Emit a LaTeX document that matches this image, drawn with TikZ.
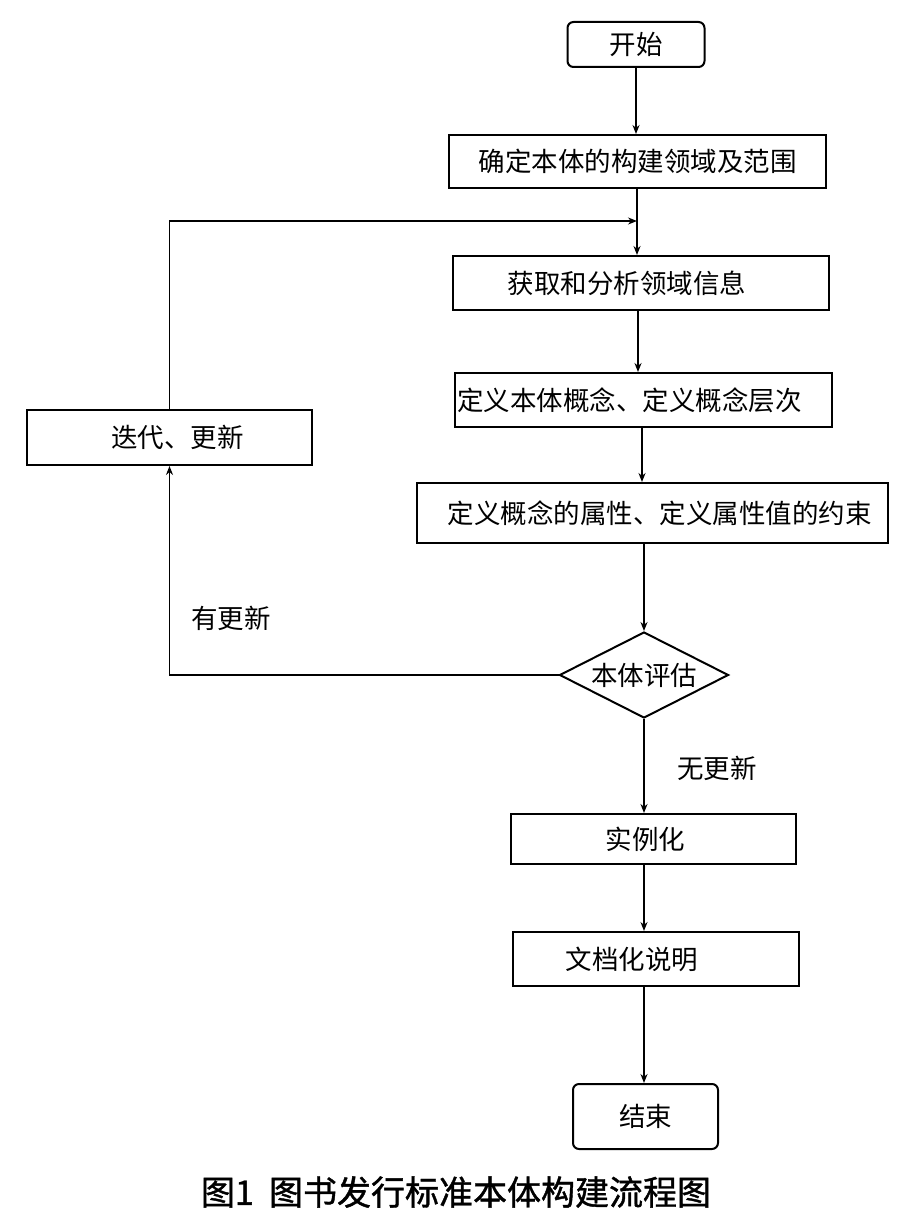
\documentclass[tikz,border=0pt]{standalone}
\usepackage{fontspec}
\newfontfamily\cjk{Noto Sans CJK SC}
\newfontfamily\capfont[FakeBold=1.2]{Noto Sans CJK SC}
\usetikzlibrary{arrows.meta,shapes.geometric}
\newcommand{\shl}[1]{\hspace*{#1pt}}
\begin{document}
\begin{tikzpicture}[x=1pt,y=-1pt,
  every node/.style={font=\cjk\fontsize{26.5}{30}\selectfont, inner sep=0pt},
  procbox/.style={draw, line width=2pt, rectangle},
  termbox/.style={draw, line width=2pt, rectangle, rounded corners=6pt},
  decbox/.style={draw, line width=2pt, diamond, aspect=2},
  arr/.style={line width=1.6pt, -{Stealth[length=9pt,width=7pt]}},
  lbl/.style={font=\cjk\fontsize{26.5}{30}\selectfont}
]
\useasboundingbox (0,0) rectangle (912,1220);

\node[termbox, minimum width=137pt, minimum height=45pt] (start) at (636,44.5) {开始};
\node[procbox, minimum width=377pt, minimum height=53pt] (b2) at (637.5,161.5) {确定本体的构建领域及范围};
\node[procbox, minimum width=376pt, minimum height=54pt] (b3) at (641,283) {获取和分析领域信息\shl{28}};
\node[procbox, minimum width=377pt, minimum height=54pt, text width=373pt, align=left, inner xsep=2pt] (b4) at (643.5,400) {定义本体概念、定义概念层次};
\node[procbox, minimum width=471pt, minimum height=60pt] (b5) at (652.5,513) {\shl{14}定义概念的属性、定义属性值的约束};
\node[decbox, minimum width=169pt, minimum height=86pt] (eval) at (644,675) {本体评估};
\node[procbox, minimum width=285pt, minimum height=55pt] (iter) at (169.5,437.5) {\shl{16}迭代、更新};
\node[procbox, minimum width=285pt, minimum height=50pt] (inst) at (653.5,839) {实例化\shl{16}};
\node[procbox, minimum width=286pt, minimum height=54pt] (doc) at (656,959) {文档化说明\shl{48}};
\node[termbox, minimum width=145pt, minimum height=65pt] (end) at (645.5,1116.5) {结束};

\node[lbl] (yes) at (231,618) {有更新};
\node[lbl] (no) at (717,768) {无更新};

\node[font=\capfont\fontsize{34}{40}\selectfont] (cap) at (456,1192) {图1\hspace{0.45em}图书发行标准本体构建流程图};

\coordinate (join) at (637,221);

\draw[arr] (start.south) -- (start.south |- b2.north);
\draw[arr] (join |- b2.south) -- (join |- b3.north);
\draw[arr] (iter.north) |- (join);
\draw[arr] (b3.south -| 638,0) -- (638,0 |- b4.north);
\draw[arr] (642,0 |- b4.south) -- (642,0 |- b5.north);
\draw[arr] (eval.north |- b5.south) -- (eval.north);
\draw[arr] (eval.west) -| (iter.south);
\draw[arr] (eval.south) -- (eval.south |- inst.north);
\draw[arr] (eval.south |- inst.south) -- (eval.south |- doc.north);
\draw[arr] (eval.south |- doc.south) -- (eval.south |- end.north);
\end{tikzpicture}
\end{document}
